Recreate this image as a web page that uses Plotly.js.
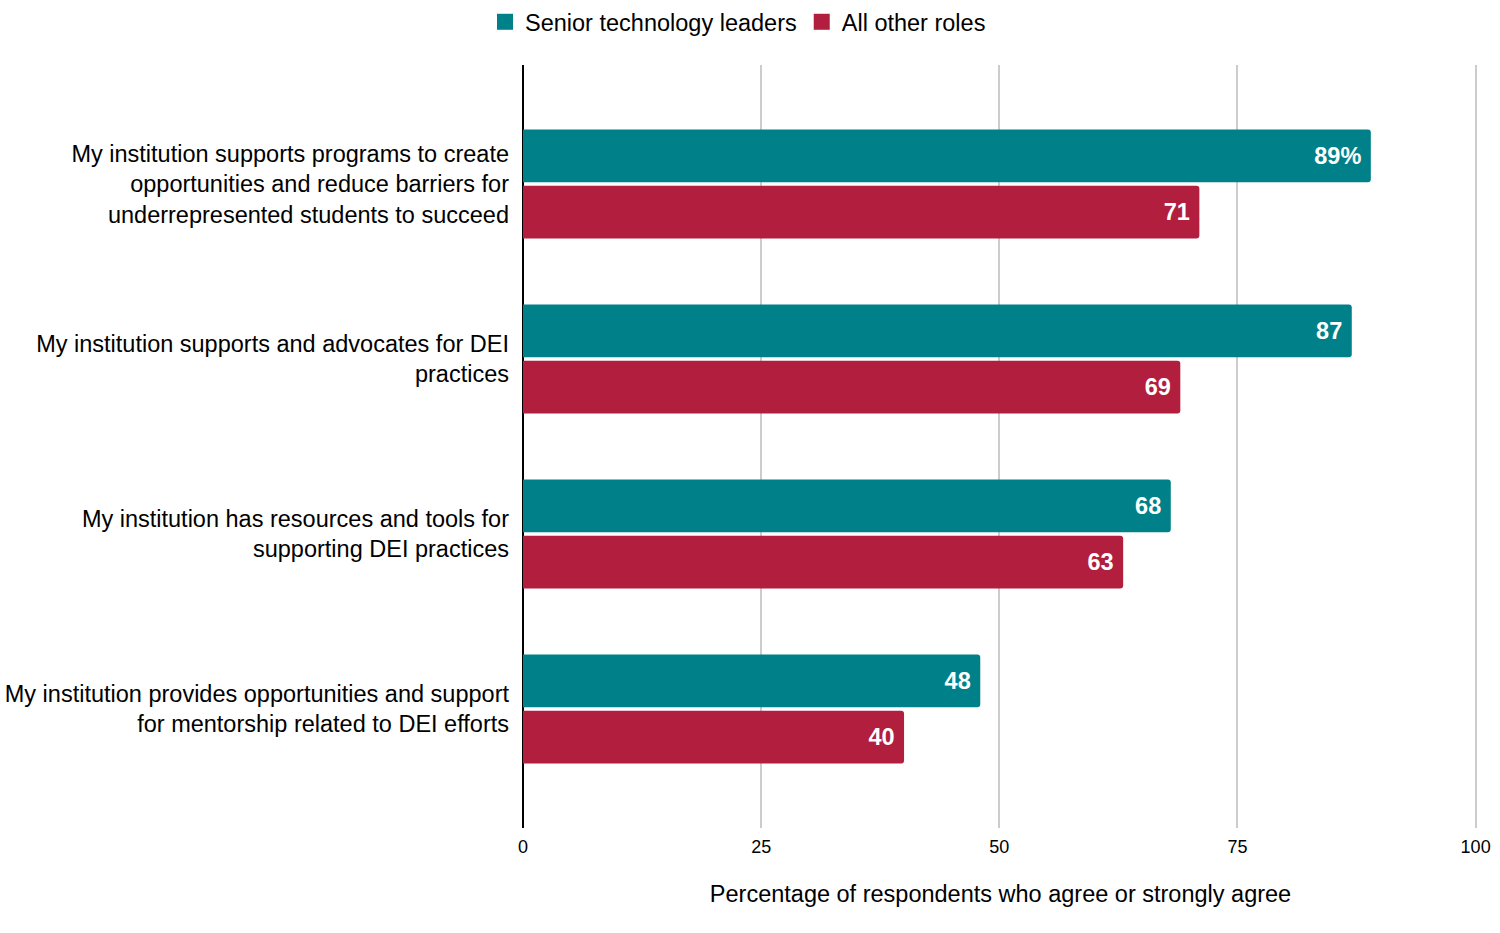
<!DOCTYPE html>
<html>
<head>
<meta charset="utf-8">
<script src="https://cdn.plot.ly/plotly-3.0.1.min.js"></script>
<style>
  html, body { margin: 0; padding: 0; background: #fff; }
  #chart { width: 1500px; height: 933px; }
</style>
</head>
<body>
<div id="chart"></div>
<script>
// Survey statements (y categories)
const statements = [
    'My institution supports programs to create<br>opportunities and reduce barriers for<br>underrepresented students to succeed',
    'My institution supports and advocates for DEI<br>practices',
    'My institution has resources and tools for<br>supporting DEI practices',
    'My institution provides opportunities and support<br>for mentorship related to DEI efforts'
];

// Percent agreeing or strongly agreeing
const seniorLeaders = [89, 87, 68, 48];
const otherRoles = [71, 69, 63, 40];

const seriesNames = ['Senior technology leaders', 'All other roles'];
const seriesColors = ['#00818a', '#b11e3e'];

const xTicks = [0, 25, 50, 75, 100];

const FONT = '"Liberation Sans", Arial, sans-serif';

// first label carries the % sign, the rest are bare numbers; nbsp pads off the bar end
function barLabels(values, withPercent) {
    return values.map((v, i) => ((withPercent && i === 0) ? v + '%' : String(v)) + '\u00a0');
}

function barTrace(name, values, color, withPercent) {
    return {
        type: 'bar',
        orientation: 'h',
        name: name,
        y: statements,
        x: values,
        text: barLabels(values, withPercent),
        textposition: 'inside',
        insidetextanchor: 'end',
        textfont: { family: FONT, size: 23.5, color: '#ffffff', weight: 'bold' },
        marker: { color: color, cornerradius: 3 },
        showlegend: false,
        hoverinfo: 'x'
    };
}

// empty scatter traces just to get bigger square legend keys
function legendTrace(name, color) {
    return {
        type: 'scatter',
        mode: 'markers',
        name: name,
        x: [null],
        y: [null],
        marker: { symbol: 'square', size: 20, color: color },
        showlegend: true,
        hoverinfo: 'skip'
    };
}

const traces = [
    barTrace(seriesNames[0], seniorLeaders, seriesColors[0], true),
    barTrace(seriesNames[1], otherRoles, seriesColors[1], false),
    legendTrace(seriesNames[0], seriesColors[0]),
    legendTrace(seriesNames[1], seriesColors[1])
];

const layout = {
    width: 1500,
    height: 933,
    margin: { l: 523, r: 22, t: 65, b: 105 },
    paper_bgcolor: '#ffffff',
    plot_bgcolor: '#ffffff',
    font: { family: FONT, size: 23.5, color: '#000000' },
    barmode: 'group',
    bargap: 0.355,
    bargroupgap: 0.065,
    showlegend: true,
    legend: {
        orientation: 'h',
        x: 0.492,
        xref: 'container',
        xanchor: 'center',
        y: 1.0,
        yref: 'container',
        yanchor: 'top',
        font: { family: FONT, size: 23.5, color: '#000000' },
        itemwidth: 30,
        traceorder: 'normal'
    },
    xaxis: {
        // a hair past 100 so the 100 gridline isn't dropped at the plot edge
        range: [0, 100.25],
        tickvals: xTicks,
        ticktext: xTicks.map(String),
        tickfont: { family: FONT, size: 18, color: '#000000' },
        showgrid: true,
        gridcolor: '#cccccc',
        gridwidth: 1.5,
        zeroline: true,
        zerolinecolor: '#000000',
        zerolinewidth: 1.5,
        showline: false,
        ticks: '',
        ticklabelstandoff: 6,
        title: {
            text: 'Percentage of respondents who agree or strongly agree',
            font: { family: FONT, size: 23.5, color: '#000000' },
            standoff: 29
        }
    },
    yaxis: {
        type: 'category',
        range: [3.68, -0.68],
        tickfont: { family: FONT, size: 23.5, color: '#000000' },
        showgrid: false,
        zeroline: false,
        showline: false,
        ticks: '',
        ticklabelstandoff: 13
    }
};

Plotly.newPlot('chart', traces, layout, { displayModeBar: false, responsive: false });
</script>
</body>
</html>
